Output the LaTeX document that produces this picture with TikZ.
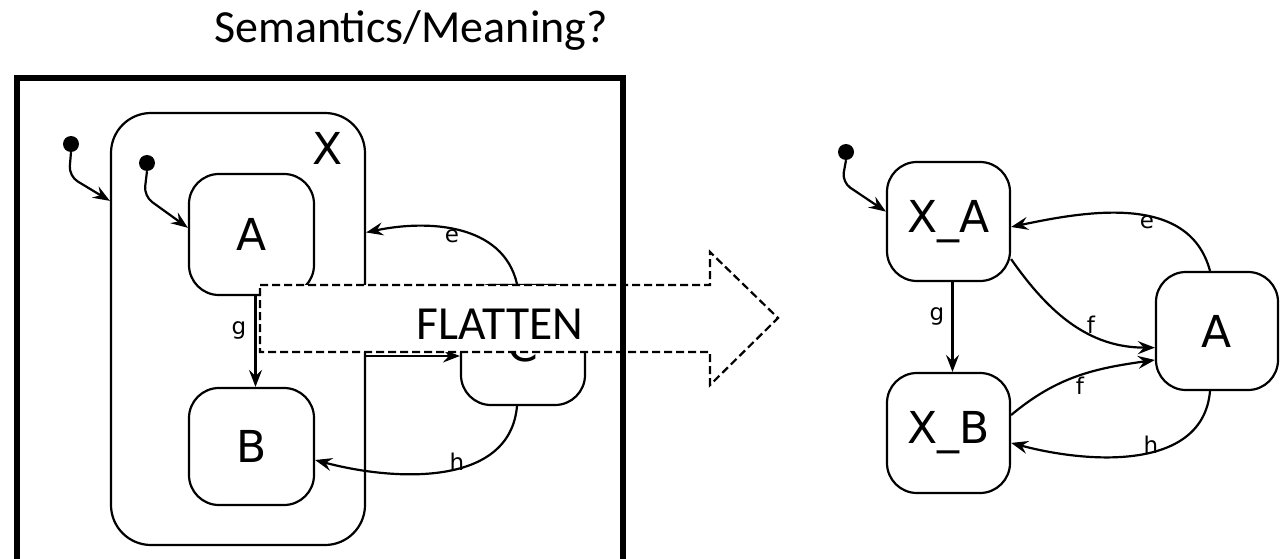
\documentclass[tikz,border=0pt]{standalone}
\usepackage{fontspec}
\setmainfont{DejaVu Sans}
\newfontfamily\calib{Carlito}
\usetikzlibrary{arrows.meta}
\begin{document}
\begin{tikzpicture}[x=1pt,y=-1pt,
  state/.style={draw, line width=2.2pt, rounded corners=30pt, inner sep=0pt,
    font=\fontsize{44}{50}\selectfont},
  tr/.style={line width=2.2pt, -{Stealth[length=17pt,width=13pt,inset=6pt]}},
  lbl/.style={font=\fontsize{23}{26}\selectfont, inner sep=0pt},
  dot/.style={circle, fill, inner sep=0pt, minimum size=16pt},
  flat/.style={draw, dashed, dash pattern=on 8pt off 4pt, line width=2.2pt, fill=white},
  frame/.style={draw, line width=6pt}]
\useasboundingbox (0,0) rectangle (1280,559);
% title
\node[font=\calib\fontsize{46}{50}\selectfont, anchor=base, inner sep=0pt] (title) at (411,43) {Semantics/Meaning?};
% ---------- left hierarchical machine ----------
\node[state, rounded corners=40pt, minimum width=254pt, minimum height=432pt] (X) at (238,329) {};
\node[font=\fontsize{44}{50}\selectfont, inner sep=0pt] (xl) at (328,148) {X};
\node[state, minimum width=125pt, minimum height=121pt] (A) at (251.5,234.5) {A};
\node[state, minimum width=125pt, minimum height=117pt] (B) at (251.5,446.5) {B};
\node[state, minimum width=124pt, minimum height=120pt] (C) at (523,345) {C};
\node[dot] (d1) at (71,144) {};
\node[dot] (d2) at (147,163) {};
\draw[tr, rounded corners=10pt] (d1.south) -- ++(-2,24) -- (X.135.7);
\draw[tr, rounded corners=10pt] (d2.south) -- ++(-3,25) -- (A.174);
\draw[tr] ([xshift=4pt]A.south) -- ([xshift=4pt]B.north);
\node[lbl] (lg) at (239,330) {g};
\draw[tr] ([xshift=-6pt]C.north) to[out=103,in=12] (X.37.4);
\node[lbl] (le) at (452,236) {e};
\coordinate (fs) at (365,356);
\draw[tr] (fs) -- ([yshift=-11pt]C.west);
\draw[tr] ([xshift=-6pt]C.south) to[out=-95,in=-15] (B.-12);
\node[lbl] (lh) at (457,462) {h};
% flatten arrow
\path[flat] (260,285) -- (710,285) -- (710,252) -- (778,318) -- (710,385) -- (710,352) -- (260,352) -- cycle;
\node[font=\calib\fontsize{47.5}{50}\selectfont, anchor=base, inner sep=0pt] (fl) at (500,339) {FLATTEN};
% frame
\path[frame] (17,575) -- (17,78) -- (623,78) -- (623,575);
% ---------- right flat machine ----------
\node[state, minimum width=123pt, minimum height=119pt] (XA) at (948.5,221.5) {X\_A};
\node[state, minimum width=123pt, minimum height=120pt] (XB) at (948.5,433) {X\_B};
\node[state, minimum width=122pt, minimum height=118pt] (AR) at (1217,331) {A};
\node[dot] (d3) at (846,152) {};
\draw[tr, rounded corners=10pt] (d3.south) -- ++(-4,22) -- (XA.171);
\draw[tr] ([xshift=4pt]XA.south) -- ([xshift=4pt]XB.north);
\node[lbl] (rg) at (937,316) {g};
\draw[tr] ([xshift=-7pt]AR.north) to[out=105,in=12] (XA.-5);
\node[lbl] (re) at (1147,222) {e};
\draw[tr] (XA.-31) to[out=-55,in=180] (AR.195);
\node[lbl] (rf1) at (1091,325) {f};
\draw[tr] (XB.16) to[out=40,in=188] (AR.205);
\node[lbl] (rf2) at (1080,386) {f};
\draw[tr] ([xshift=-7pt]AR.south) to[out=-95,in=-15] (XB.-9);
\node[lbl] (rh) at (1151,445) {h};
\end{tikzpicture}
\end{document}
